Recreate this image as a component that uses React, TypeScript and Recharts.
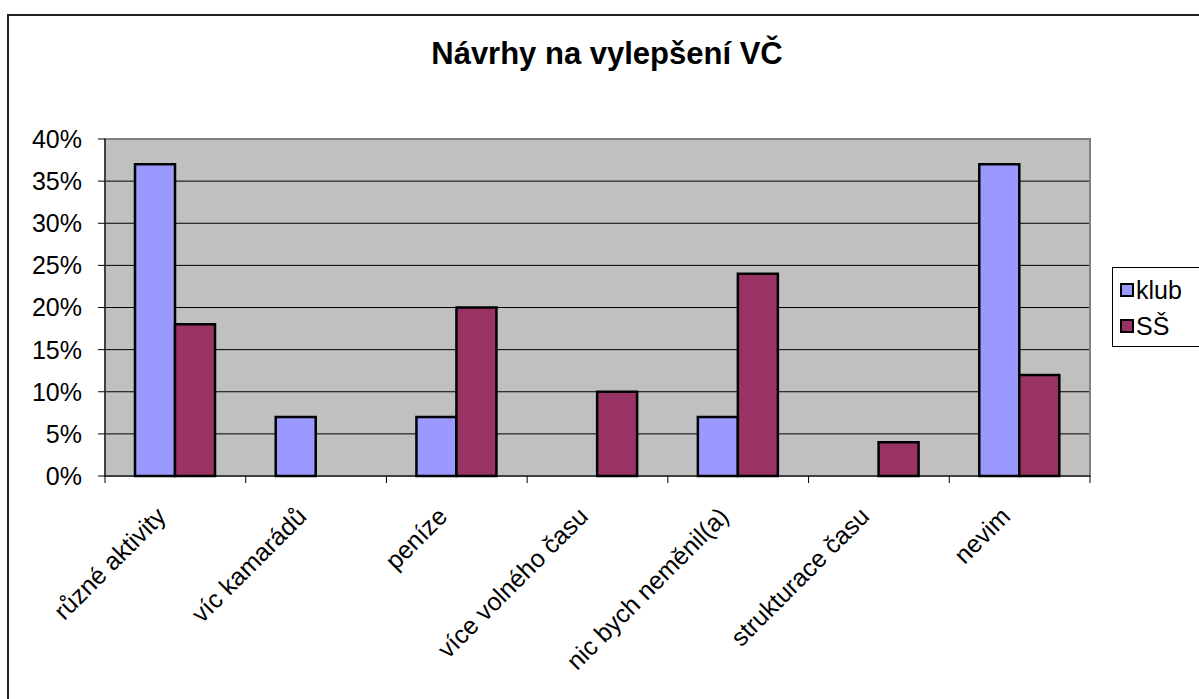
import React from 'react';
import { BarChart, Bar, XAxis, YAxis, CartesianGrid, ReferenceArea } from 'recharts';

const categories = [
  'různé aktivity',
  'víc kamarádů',
  'peníze',
  'více volného času',
  'nic bych neměnil(a)',
  'strukturace času',
  'nevim',
];
const klub = [37, 7, 7, 0, 7, 0, 37];
const ss = [18, 0, 20, 10, 24, 4, 12];
const yTicks = [0, 5, 10, 15, 20, 25, 30, 35, 40];
const seriesNames = ['klub', 'SŠ'];
const seriesColors = ['#9999FF', '#993366'];

const data = categories.map((name, i) => ({ name, klub: klub[i], ss: ss[i] }));

const W = 1199;
const H = 699;
const PLOT_LEFT = 105;
const PLOT_RIGHT = 1090;
const PLOT_TOP = 139;
const PLOT_BOTTOM = 476;
const font = 'Arial, "Liberation Sans", sans-serif';

const band = (PLOT_RIGHT - PLOT_LEFT) / categories.length;

const CatTick = (props: any) => {
  const { x, payload, index } = props;
  const ax = x - 8;
  const ay = PLOT_BOTTOM + 42;
  return (
    <g>
      <line x1={x - band / 2} y1={PLOT_BOTTOM} x2={x - band / 2} y2={PLOT_BOTTOM + 7} stroke="#000" strokeWidth={1} />
      {index === categories.length - 1 && (
        <line x1={x + band / 2} y1={PLOT_BOTTOM} x2={x + band / 2} y2={PLOT_BOTTOM + 7} stroke="#000" strokeWidth={1} />
      )}
      <text
        x={ax}
        y={ay}
        textAnchor="end"
        fontSize={25}
        fontFamily={font}
        fill="#000"
        transform={`rotate(-45, ${ax}, ${ay})`}
      >
        {payload.value}
      </text>
    </g>
  );
};

export default function App() {
  return (
    <div style={{ position: 'absolute', left: 0, top: 0, width: W, height: H, overflow: 'hidden', background: '#fff' }}>
      <div
        style={{
          position: 'absolute',
          left: 7,
          top: 14,
          width: 1300,
          height: 800,
          border: '2px solid #222',
        }}
      />
      <div
        style={{
          position: 'absolute',
          left: 0,
          top: 36,
          width: 1214,
          textAlign: 'center',
          fontFamily: font,
          fontWeight: 'bold',
          fontSize: 31,
          color: '#000',
        }}
      >
        Návrhy na vylepšení VČ
      </div>
      <div style={{ position: 'absolute', left: 0, top: 0 }}>
        <BarChart
          width={W}
          height={H}
          data={data}
          margin={{ top: PLOT_TOP, right: W - PLOT_RIGHT, left: 0, bottom: 0 }}
          barCategoryGap={30}
          barGap={0}
        >
          <CartesianGrid vertical={false} stroke="#000" fill="#C0C0C0" fillOpacity={1} />
          <ReferenceArea y1={0} y2={40} fill="none" stroke="#808080" strokeWidth={2} ifOverflow="visible" />
          <XAxis
            dataKey="name"
            interval={0}
            tickLine={false}
            axisLine={{ stroke: '#000' }}
            height={H - PLOT_BOTTOM}
            tick={<CatTick />}
          />
          <YAxis
            width={PLOT_LEFT}
            domain={[0, 40]}
            ticks={yTicks}
            interval={0}
            tickFormatter={(v: number) => `${v}%`}
            axisLine={{ stroke: '#000' }}
            tickLine={{ stroke: '#000' }}
            tickSize={7}
            tickMargin={16}
            tick={{ fill: '#000', fontSize: 25, fontFamily: font }}
          />
          <Bar dataKey="klub" name={seriesNames[0]} fill={seriesColors[0]} stroke="#000" strokeWidth={2.5} isAnimationActive={false} />
          <Bar dataKey="ss" name={seriesNames[1]} fill={seriesColors[1]} stroke="#000" strokeWidth={2.5} isAnimationActive={false} />
        </BarChart>
      </div>
      <div
        style={{
          position: 'absolute',
          left: 1112,
          top: 267,
          width: 120,
          height: 78,
          border: '1px solid #000',
          background: '#fff',
          fontFamily: font,
          fontSize: 25,
          color: '#000',
        }}
      >
        {seriesNames.map((n, i) => (
          <div key={n} style={{ position: 'absolute', left: 7, top: 8 + i * 36, display: 'flex', alignItems: 'center', lineHeight: '28px' }}>
            <span
              style={{
                display: 'inline-block',
                width: 10,
                height: 10,
                border: '2px solid #000',
                background: seriesColors[i],
                marginRight: 2,
              }}
            />
            {n}
          </div>
        ))}
      </div>
    </div>
  );
}
